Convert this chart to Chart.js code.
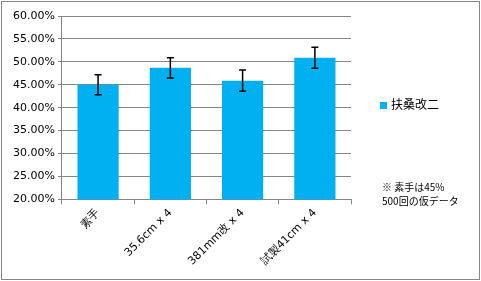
<!DOCTYPE html>
<html>
<head>
<meta charset="utf-8">
<script src="https://cdn.jsdelivr.net/npm/chart.js@4"></script>
<style>
  html, body { margin: 0; padding: 0; background: #fff; }
  #wrap { position: relative; width: 481px; height: 281px; }
  #frame { position: absolute; left: 1px; top: 1px; width: 477px; height: 277px; border: 1px solid #868686; pointer-events: none; }
  #legend { position: absolute; left: 380px; top: 95px; font: 12px "Noto Sans CJK JP"; color: #000; }
  #legend span.box { display: inline-block; width: 7px; height: 7px; background: #00B0F0; margin-right: 4px; }
  #note { position: absolute; left: 382px; top: 180px; font: 10px "Noto Sans CJK JP"; line-height: 14px; color: #000; }
</style>
</head>
<body>
<div id="wrap">
  <canvas id="chart" width="481" height="281"></canvas>
  <div id="frame"></div>
  <div id="legend"><span class="box"></span>扶桑改二</div>
  <div id="note">※ 素手は45%<br>500回の仮データ</div>
</div>
<script>
const categories = ['素手', '35.6cm x 4', '381mm改 x 4', '試製41cm x 4']
const rates = [45.0, 48.7, 45.9, 50.9]
const errors = [2.2, 2.2, 2.3, 2.3]
const yTicks = { min: 20, max: 60, step: 5 }

const ctx = document.getElementById('chart')

// draws the error bars using the y scale
const errorBars = {
    id: 'errorBars',
    afterDatasetsDraw: (chart) => {
        const c = chart.ctx
        const y = chart.scales.y
        const meta = chart.getDatasetMeta(0)
        c.save()
        c.strokeStyle = '#000'
        c.lineWidth = 1.5
        meta.data.forEach((bar, i) => {
            const top = y.getPixelForValue(rates[i] + errors[i])
            const bot = y.getPixelForValue(rates[i] - errors[i])
            c.beginPath()
            c.moveTo(bar.x, top); c.lineTo(bar.x, bot)
            c.moveTo(bar.x - 3.5, top); c.lineTo(bar.x + 3.5, top)
            c.moveTo(bar.x - 3.5, bot); c.lineTo(bar.x + 3.5, bot)
            c.stroke()
        })
        c.restore()
    }
}

new Chart(ctx, {
    type: 'bar',
    data: {
        labels: categories,
        datasets: [{
            label: '扶桑改二',
            data: rates,
            backgroundColor: '#00B0F0',
            barPercentage: 0.57,
            categoryPercentage: 1,
        }]
    },
    options: {
        responsive: false,
        animation: false,
        layout: { padding: { top: 16, right: 130, left: 10, bottom: 11 } },
        plugins: {
            legend: { display: false },
            tooltip: { enabled: false },
        },
        scales: {
            x: {
                grid: { drawOnChartArea: false, offset: true, color: '#868686', tickLength: 5 },
                border: { color: '#868686' },
                ticks: {
                    color: '#000',
                    font: { family: 'DejaVu Sans', size: 11 },
                    minRotation: 45,
                    maxRotation: 45,
                    padding: 2,
                },
            },
            y: {
                min: yTicks.min,
                max: yTicks.max,
                grid: { color: '#868686', tickLength: 4 },
                border: { color: '#868686' },
                ticks: {
                    stepSize: yTicks.step,
                    color: '#000',
                    font: { family: 'DejaVu Sans', size: 11 },
                    padding: 3,
                    callback: (v) => v.toFixed(2) + '%',
                },
            },
        },
    },
    plugins: [errorBars],
})
</script>
</body>
</html>
